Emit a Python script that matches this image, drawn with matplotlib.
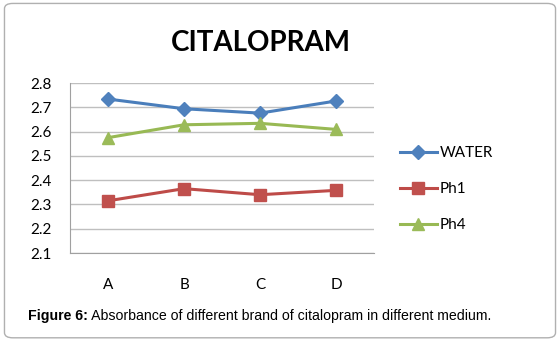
import matplotlib.pyplot as plt
from matplotlib.patches import FancyBboxPatch

categories = ['A', 'B', 'C', 'D']
water = [2.734, 2.694, 2.676, 2.726]
ph1 = [2.315, 2.365, 2.340, 2.358]
ph4 = [2.575, 2.628, 2.634, 2.609]
yticks = [2.1, 2.2, 2.3, 2.4, 2.5, 2.6, 2.7, 2.8]

plt.rcParams['font.family'] = ['Lato', 'DejaVu Sans']

fig = plt.figure(figsize=(5.6, 3.44), dpi=100)
ax = fig.add_axes([0.125, 0.2645, 0.543, 0.4942])

x = range(len(categories))
ax.plot(x, water, color='#4A7EBB', lw=2.2, marker='D', ms=7, mfc='#4F81BD', mec='#4F81BD', label='WATER')
ax.plot(x, ph1, color='#BE4B48', lw=2.2, marker='s', ms=8, mfc='#C0504D', mec='#C0504D', label='Ph1')
ax.plot(x, ph4, color='#98B954', lw=2.2, marker='^', ms=8, mfc='#9BBB59', mec='#9BBB59', label='Ph4')

ax.set_xlim(-0.5, 3.5)
ax.set_ylim(2.1, 2.8)
ax.set_yticks(yticks)
ax.set_yticklabels([f'{v:.1f}' for v in yticks])
ax.set_xticks(list(x))
ax.set_xticklabels(categories)
ax.tick_params(axis='x', length=0, pad=18, labelsize=11)
ax.tick_params(axis='y', length=0, pad=13, labelsize=11)
ax.grid(axis='y', color='#BFBFBF', lw=1)
ax.set_axisbelow(True)
for s in ['top', 'right']:
    ax.spines[s].set_visible(False)
ax.spines['left'].set_color('#A0A0A0')
ax.spines['bottom'].set_color('#A0A0A0')

fig.text(0.465, 0.875, 'CITALOPRAM', ha='center', va='center', fontsize=20, fontweight='bold')

ax.legend(loc='center left', bbox_to_anchor=(0.69, 0.45), bbox_transform=fig.transFigure,
          frameon=False, fontsize=11, labelspacing=1.45, handlelength=2.4, handletextpad=0.2)

box = FancyBboxPatch((0.008, 0.018), 0.984, 0.972, boxstyle='round,pad=0,rounding_size=0.015',
                     transform=fig.transFigure, fill=False, ec='#B0B0B0', lw=1)
fig.add_artist(box)

t1 = fig.text(0.05, 0.07, 'Figure 6:', fontsize=10.2, fontweight='bold', family='Liberation Sans', va='baseline')
ax.annotate(' Absorbance of different brand of citalopram in different medium.', xy=(1, 0), xycoords=t1,
            va='bottom', fontsize=10.2, family='Liberation Sans', annotation_clip=False)

fig.savefig('out.png', dpi=100)
